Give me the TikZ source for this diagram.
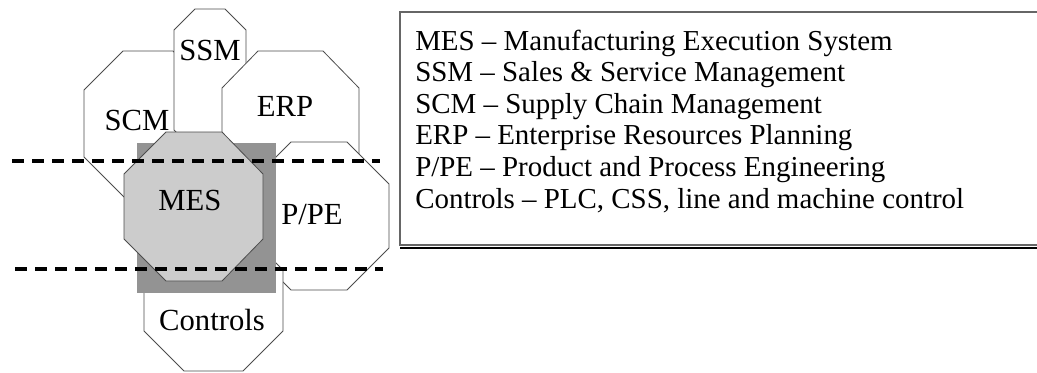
\documentclass[tikz,border=0pt]{standalone}
\usepackage{fontspec}
\setmainfont{Liberation Serif}
\begin{document}
\begin{tikzpicture}[x=0.75pt,y=-0.75pt,
  octa/.style={draw=black!70, line width=0.6pt, fill=white, line join=miter},
  lbl/.style={inner sep=0pt, anchor=base, font=\fontsize{23}{27}\selectfont},
  legend/.style={inner sep=0pt, anchor=base west, font=\fontsize{21.7}{26}\selectfont},
  cut/.style={draw=black, dash pattern=on 9pt off 6pt}
]
\definecolor{mesgray}{HTML}{CCCCCC}
\definecolor{boxgray}{HTML}{939393}
\useasboundingbox (0,0) rectangle (1037,372);

% application areas as octagons, back to front
\path[octa] (84,90) -- (123,51) -- (173,51) -- (212,90) -- (212,157) -- (172,197) -- (124,197) -- (84,157) -- cycle;
\path[octa] (174,30) -- (195,9) -- (225,9) -- (246,30) -- (246,130) -- (225,151) -- (195,151) -- (174,130) -- cycle;
\path[octa] (222,88) -- (258,51) -- (323,51) -- (359,88) -- (359,165) -- (323,200) -- (258,200) -- (222,165) -- cycle;
\path[octa] (249,184) -- (291,142) -- (347,142) -- (389,184) -- (389,248) -- (347,290) -- (291,290) -- (249,248) -- cycle;
\path[octa] (144,270) -- (184,230) -- (243,230) -- (283,270) -- (283,331) -- (243,371) -- (184,371) -- (144,331) -- cycle;

% manufacturing level block and MES octagon
\fill[boxgray] (137,143) rectangle (276,293);
\path[octa, fill=mesgray] (124,174) -- (166,132) -- (222,132) -- (263,174) -- (263,239) -- (222,281) -- (166,281) -- (124,239) -- cycle;

% labels
\node[lbl] (ssm) at (210,60) {SSM};
\node[lbl] (scm) at (137,130) {SCM};
\node[lbl] (erp) at (285,116) {ERP};
\node[lbl] (mes) at (190,210) {MES};
\node[lbl] (ppe) at (312,224) {P/PE};
\node[lbl] (ctl) at (212,330) {Controls};

% level boundaries
\draw[cut, line width=2.3pt] (12,161) -- (380,161);
\draw[cut, line width=3.6pt] (15,269) -- (383,269);

% legend box
\draw[black!60, line width=0.8pt] (1037,12) -- (400,12) -- (400,245) -- (1037,245);
\draw[black, line width=1pt] (400,248) -- (1037,248);
\node[legend] (l1) at (415,50) {MES -- Manufacturing Execution System};
\node[legend] (l2) at (415,81.6) {SSM -- Sales \& Service Management};
\node[legend] (l3) at (415,113.2) {SCM -- Supply Chain Management};
\node[legend] (l4) at (415,144.8) {ERP -- Enterprise Resources Planning};
\node[legend] (l5) at (415,176.4) {P/PE -- Product and Process Engineering};
\node[legend] (l6) at (415,208) {Controls -- PLC, CSS, line and machine control};
\end{tikzpicture}
\end{document}
